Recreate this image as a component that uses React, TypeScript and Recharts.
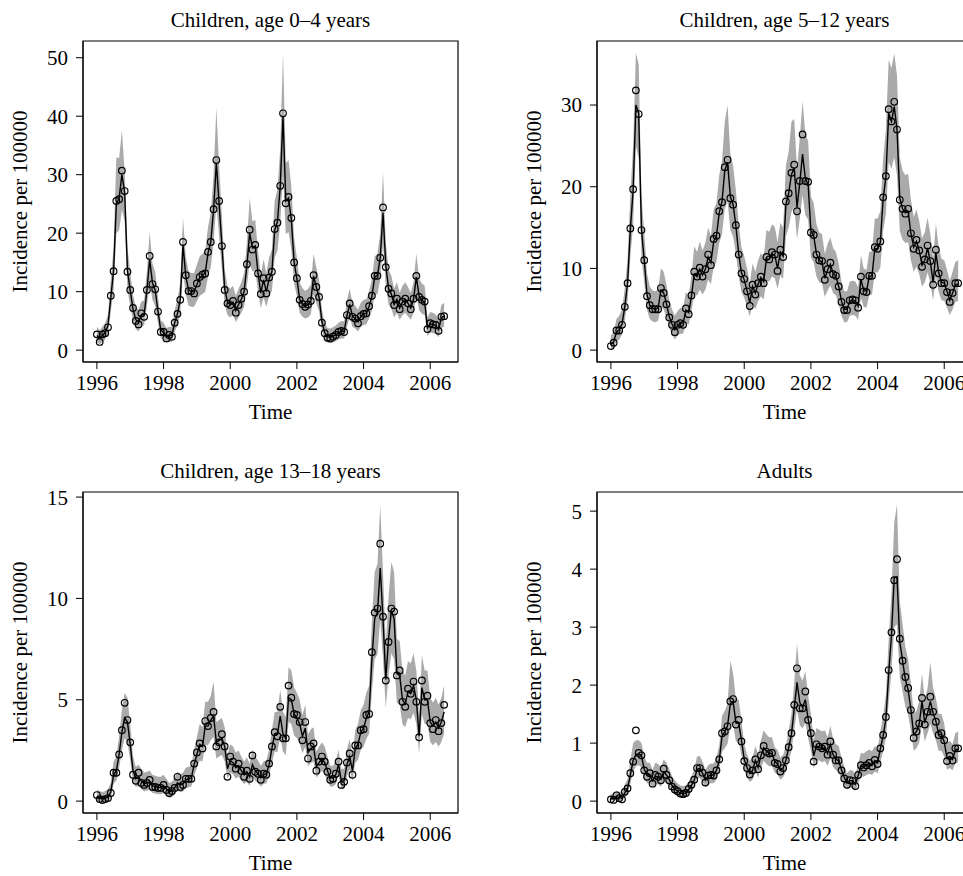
import { ComposedChart, Area, Line, XAxis, YAxis, ReferenceArea } from "recharts";

// monthly series, Jan 1996 – Jun 2006
const xTicks = [1996, 1998, 2000, 2002, 2004, 2006];
const xDomain: [number, number] = [1995.583, 2006.833];

const obs04 = [
  2.7, 1.4, 2.7, 2.9, 3.9, 9.3, 13.5, 25.5, 25.8, 30.7, 27.2, 13.4,
  10.3, 7.2, 5.0, 4.4, 6.3, 5.7, 10.3, 16.1, 11.3, 10.4, 6.6, 3.1,
  3.1, 2.0, 2.6, 2.3, 4.7, 6.2, 8.6, 18.5, 12.8, 10.1, 10.1, 9.7,
  11.4, 12.5, 12.9, 13.1, 16.8, 18.5, 24.1, 32.5, 25.5, 17.8, 10.3, 8.0,
  7.7, 8.4, 6.4, 7.7, 8.8, 10.0, 14.7, 20.6, 17.2, 18.0, 13.1, 9.6,
  12.3, 9.7, 12.4, 13.4, 20.7, 21.8, 28.1, 40.5, 25.1, 26.2, 22.6, 15.0,
  12.3, 8.6, 7.9, 7.4, 7.8, 8.4, 12.8, 10.8, 9.1, 4.7, 2.9, 2.1,
  2.0, 2.3, 2.6, 3.1, 3.3, 3.1, 6.0, 8.0, 5.7, 5.4, 4.6, 5.8,
  6.2, 6.3, 7.5, 9.3, 12.7, 12.7, 15.8, 24.4, 14.2, 10.5, 9.7, 7.7,
  8.8, 7.0, 8.3, 8.8, 8.0, 7.0, 8.8, 12.7, 9.1, 8.6, 8.3, 3.6,
  4.6, 4.4, 4.3, 3.3, 5.7, 5.8,
];
const fit04 = [
  2.5, 2.0, 2.5, 3.0, 4.2, 9.0, 13.5, 25.0, 26.0, 30.0, 27.0, 13.6,
  10.2, 7.0, 5.2, 4.8, 6.0, 6.0, 10.2, 15.5, 11.5, 10.2, 6.6, 3.4,
  3.0, 2.3, 2.5, 2.5, 4.7, 6.2, 8.6, 18.0, 12.6, 10.3, 10.0, 10.0,
  11.2, 12.4, 12.8, 13.2, 16.6, 18.5, 24.0, 32.0, 25.0, 18.0, 10.5, 8.2,
  7.8, 8.2, 6.8, 7.8, 8.7, 10.0, 14.5, 20.0, 17.5, 17.8, 13.2, 9.8,
  12.0, 10.0, 12.2, 13.4, 20.5, 22.0, 28.0, 40.0, 25.5, 26.0, 22.3, 15.0,
  12.2, 8.7, 7.9, 7.5, 7.8, 8.4, 12.6, 10.8, 9.0, 4.9, 3.0, 2.3,
  2.2, 2.4, 2.6, 3.0, 3.3, 3.2, 5.8, 7.8, 5.8, 5.4, 4.8, 5.8,
  6.2, 6.3, 7.5, 9.2, 12.5, 12.8, 15.8, 23.5, 14.5, 10.5, 9.6, 7.8,
  8.7, 7.2, 8.2, 8.7, 8.0, 7.2, 8.7, 12.5, 9.2, 8.5, 8.2, 3.8,
  4.5, 4.4, 4.2, 3.5, 5.5, 5.8,
];
const hi04 = [
  4.0, 3.4, 4.0, 4.7, 6.1, 12.0, 17.5, 33.0, 32.8, 37.6, 30.5, 17.5,
  13.4, 9.5, 7.3, 6.9, 8.3, 8.5, 13.5, 20.2, 14.8, 13.4, 9.0, 5.1,
  4.7, 3.8, 4.0, 4.0, 6.8, 8.6, 11.5, 22.6, 16.0, 13.5, 13.2, 13.2,
  14.6, 16.0, 16.5, 17.0, 21.0, 23.5, 30.0, 41.5, 31.5, 23.0, 13.8, 11.0,
  10.5, 11.0, 9.3, 10.5, 11.6, 13.2, 18.5, 26.0, 22.0, 22.3, 17.0, 12.9,
  15.5, 13.2, 15.8, 17.2, 25.5, 27.5, 34.5, 50.8, 32.0, 32.5, 28.0, 19.2,
  15.8, 11.6, 10.6, 10.1, 10.5, 11.2, 16.5, 14.1, 12.0, 7.0, 4.7, 3.8,
  3.7, 3.9, 4.2, 4.7, 5.0, 4.9, 8.5, 10.5, 8.1, 7.6, 6.9, 8.1,
  8.6, 8.7, 10.1, 12.2, 16.0, 16.5, 20.0, 30.5, 18.5, 13.8, 12.7, 10.5,
  11.6, 9.8, 11.0, 11.6, 10.8, 9.8, 11.6, 16.5, 12.2, 11.4, 11.0, 5.6,
  6.5, 6.4, 6.1, 5.2, 7.7, 8.1,
];
const lo04 = [
  1.4, 1.0, 1.4, 1.8, 2.8, 6.6, 10.2, 20.0, 20.5, 24.0, 22.0, 10.3,
  7.6, 5.0, 3.6, 3.2, 4.2, 4.2, 7.5, 11.5, 8.6, 7.5, 4.6, 2.1,
  1.8, 1.3, 1.4, 1.4, 3.1, 4.3, 6.2, 13.5, 9.5, 7.6, 7.4, 7.4,
  8.4, 9.3, 9.6, 10.0, 12.6, 14.2, 18.5, 25.0, 19.5, 13.8, 7.8, 6.0,
  5.6, 6.0, 4.8, 5.6, 6.4, 7.4, 11.0, 15.0, 13.4, 13.6, 10.0, 7.2,
  9.0, 7.4, 9.2, 10.1, 15.8, 17.0, 21.8, 30.0, 19.8, 20.2, 17.2, 11.4,
  9.2, 6.4, 5.7, 5.4, 5.6, 6.1, 9.5, 8.0, 6.6, 3.3, 1.8, 1.3,
  1.2, 1.3, 1.5, 1.8, 2.0, 2.0, 4.0, 5.6, 4.0, 3.7, 3.2, 4.0,
  4.3, 4.4, 5.4, 6.8, 9.4, 9.6, 12.0, 18.0, 11.0, 7.8, 7.1, 5.6,
  6.4, 5.2, 6.0, 6.4, 5.8, 5.2, 6.4, 9.4, 6.8, 6.2, 6.0, 2.4,
  3.0, 2.9, 2.8, 2.2, 3.8, 4.0,
];

const obs512 = [
  0.5, 0.9, 2.4, 2.4, 3.1, 5.3, 8.2, 14.9, 19.7, 31.8, 28.9, 14.7,
  11.0, 6.6, 5.5, 5.0, 5.0, 5.0, 7.6, 7.0, 5.6, 4.0, 3.1, 2.2,
  3.1, 3.3, 3.1, 5.1, 4.4, 6.7, 9.6, 9.0, 10.1, 9.0, 9.9, 11.7,
  10.4, 13.6, 14.0, 17.0, 18.1, 22.4, 23.3, 18.6, 17.8, 15.3, 11.7, 9.4,
  8.7, 7.2, 5.4, 8.0, 6.8, 8.2, 9.0, 8.2, 11.4, 11.1, 12.0, 11.7,
  9.7, 12.3, 11.4, 18.2, 19.2, 21.7, 22.7, 17.0, 20.7, 26.4, 20.7, 20.6,
  14.4, 14.1, 11.7, 11.0, 10.9, 8.6, 9.9, 10.7, 9.3, 9.1, 7.8, 5.9,
  4.9, 4.9, 6.1, 6.2, 6.1, 5.2, 9.0, 7.2, 7.1, 9.1, 9.1, 12.6,
  12.4, 13.3, 18.7, 21.3, 29.5, 28.0, 30.4, 27.0, 18.4, 17.3, 16.7, 17.3,
  14.3, 12.4, 13.5, 12.2, 10.2, 11.1, 12.8, 10.9, 8.0, 12.3, 9.4, 8.2,
  8.2, 7.1, 5.9, 7.0, 8.2, 8.2,
];
const fit512 = [
  0.7, 1.0, 2.2, 2.5, 3.2, 5.3, 8.2, 14.8, 19.5, 30.0, 29.0, 14.8,
  11.0, 6.8, 5.5, 5.1, 5.0, 5.2, 7.3, 7.0, 5.7, 4.1, 3.2, 2.5,
  3.0, 3.3, 3.3, 4.9, 4.6, 6.6, 9.3, 9.0, 9.9, 9.2, 9.9, 11.4,
  10.7, 13.3, 14.0, 16.8, 18.2, 22.0, 23.0, 18.8, 17.8, 15.2, 11.8, 9.5,
  8.6, 7.3, 5.8, 7.8, 7.0, 8.1, 8.9, 8.4, 11.2, 11.1, 11.8, 11.6,
  10.0, 12.0, 11.5, 17.8, 19.2, 21.5, 22.3, 17.5, 20.5, 24.0, 21.0, 20.3,
  14.6, 14.0, 11.8, 11.0, 10.8, 8.8, 9.8, 10.5, 9.4, 9.0, 7.8, 6.0,
  5.0, 5.0, 6.0, 6.1, 6.0, 5.4, 8.7, 7.3, 7.2, 9.0, 9.1, 12.4,
  12.4, 13.2, 18.5, 21.2, 29.0, 28.0, 29.8, 27.0, 18.6, 17.3, 16.8, 17.0,
  14.3, 12.6, 13.3, 12.2, 10.4, 11.0, 12.5, 10.8, 8.3, 11.9, 9.5, 8.3,
  8.2, 7.2, 6.1, 7.0, 8.0, 8.1,
];
const hi512 = [
  1.8, 2.2, 3.8, 4.2, 5.0, 7.6, 11.2, 19.0, 25.0, 36.4, 35.0, 19.0,
  14.4, 9.4, 7.8, 7.3, 7.2, 7.4, 10.0, 9.6, 8.0, 6.1, 5.0, 4.2,
  4.8, 5.2, 5.2, 7.1, 6.7, 9.1, 12.7, 12.0, 13.3, 12.2, 13.1, 15.0,
  14.0, 17.2, 18.0, 21.4, 23.2, 28.0, 30.0, 24.0, 22.6, 19.5, 15.4, 12.6,
  11.5, 10.0, 8.2, 10.6, 9.6, 11.0, 11.9, 11.3, 14.7, 14.5, 15.4, 15.1,
  13.2, 15.6, 15.0, 22.6, 24.3, 28.0, 28.3, 22.2, 26.0, 30.5, 26.5, 25.6,
  18.8, 18.0, 15.4, 14.4, 14.2, 11.8, 13.0, 13.8, 12.5, 12.0, 10.6, 8.4,
  7.2, 7.2, 8.4, 8.5, 8.4, 7.7, 11.6, 10.0, 9.8, 12.0, 12.1, 16.1,
  16.1, 17.0, 23.4, 27.0, 35.5, 34.5, 36.3, 33.6, 23.6, 22.0, 21.4, 21.6,
  18.4, 16.3, 17.2, 15.8, 13.7, 14.4, 16.2, 14.2, 11.2, 15.5, 12.6, 11.2,
  11.0, 9.8, 8.5, 9.6, 10.8, 11.0,
];
const lo512 = [
  0.2, 0.3, 1.1, 1.3, 1.9, 3.6, 6.0, 11.4, 15.3, 25.0, 23.5, 11.4,
  8.3, 4.9, 3.8, 3.5, 3.4, 3.6, 5.3, 5.0, 4.0, 2.7, 1.9, 1.3,
  1.8, 2.0, 2.0, 3.3, 3.1, 4.7, 6.9, 6.7, 7.4, 6.8, 7.4, 8.6,
  8.1, 10.2, 10.8, 13.1, 14.2, 17.3, 18.2, 14.7, 13.9, 11.8, 9.0, 7.1,
  6.4, 5.3, 4.1, 5.7, 5.0, 6.0, 6.6, 6.2, 8.5, 8.4, 9.0, 8.8,
  7.5, 9.1, 8.7, 13.9, 15.0, 16.9, 17.6, 13.6, 16.1, 19.0, 16.5, 16.0,
  11.3, 10.8, 9.0, 8.3, 8.2, 6.5, 7.3, 7.9, 7.0, 6.7, 5.7, 4.2,
  3.4, 3.4, 4.2, 4.3, 4.2, 3.7, 6.4, 5.3, 5.2, 6.7, 6.8, 9.5,
  9.5, 10.1, 14.5, 16.7, 23.0, 22.2, 23.6, 21.4, 14.6, 13.5, 13.1, 13.2,
  11.0, 9.6, 10.2, 9.3, 7.8, 8.3, 9.5, 8.2, 6.1, 9.0, 7.1, 6.1,
  6.0, 5.2, 4.3, 5.0, 5.9, 6.0,
];

const obs1318 = [
  0.3, 0.1, 0.05, 0.1, 0.15, 0.4, 1.4, 1.4, 2.3, 3.5, 4.85, 4.0,
  2.9, 1.3, 1.0, 1.4, 0.9, 0.8, 0.9, 1.05, 0.7, 0.7, 0.65, 0.65,
  0.8, 0.55, 0.4, 0.5, 0.65, 1.2, 0.7, 0.8, 1.1, 1.1, 1.1, 1.85,
  2.4, 2.85, 2.6, 3.95, 3.7, 4.1, 4.4, 2.7, 2.9, 3.3, 2.7, 1.2,
  2.2, 1.95, 1.6, 1.85, 1.5, 1.2, 1.5, 1.1, 2.25, 1.45, 1.35, 1.05,
  1.35, 1.3, 1.85, 2.7, 3.4, 3.2, 4.65, 3.1, 3.1, 5.7, 5.1, 4.3,
  4.25, 3.9, 3.0, 3.9, 2.1, 2.7, 2.85, 1.5, 1.95, 2.2, 1.95, 1.45,
  1.05, 1.1, 1.35, 1.95, 0.8, 0.95, 1.9, 2.35, 1.3, 2.75, 2.75, 3.5,
  3.55, 4.25, 4.3, 7.35, 9.3, 9.5, 12.7, 9.1, 5.95, 7.85, 9.5, 9.35,
  6.2, 6.45, 4.9, 4.65, 5.55, 5.3, 5.9, 4.9, 3.15, 5.95, 4.9, 5.2,
  3.85, 3.55, 4.0, 3.45, 3.85, 4.75,
];
const fit1318 = [
  0.2, 0.15, 0.12, 0.15, 0.2, 0.45, 1.3, 1.5, 2.3, 3.4, 4.1, 3.9,
  2.8, 1.5, 1.1, 1.2, 1.0, 0.85, 0.9, 0.95, 0.75, 0.72, 0.68, 0.68,
  0.75, 0.6, 0.45, 0.5, 0.65, 0.9, 0.8, 0.85, 1.05, 1.1, 1.15, 1.8,
  2.3, 2.8, 2.7, 3.7, 3.7, 4.0, 4.2, 2.9, 3.0, 3.1, 2.7, 1.6,
  2.0, 1.9, 1.65, 1.75, 1.5, 1.3, 1.45, 1.2, 1.8, 1.5, 1.35, 1.15,
  1.3, 1.35, 1.8, 2.6, 3.3, 3.3, 4.2, 3.3, 3.1, 5.1, 5.0, 4.3,
  4.1, 3.8, 3.2, 3.6, 2.4, 2.6, 2.7, 1.7, 1.9, 2.1, 1.9, 1.5,
  1.15, 1.15, 1.3, 1.8, 1.0, 1.0, 1.8, 2.2, 1.5, 2.6, 2.8, 3.4,
  3.6, 4.1, 4.4, 7.0, 9.0, 9.3, 11.5, 9.0, 6.0, 8.0, 9.4, 9.0,
  6.3, 6.2, 5.0, 4.8, 5.4, 5.3, 5.7, 5.0, 3.2, 5.6, 5.0, 5.0,
  3.9, 3.7, 3.9, 3.6, 3.9, 4.4,
];
const hi1318 = [
  0.55, 0.5, 0.45, 0.5, 0.6, 0.9, 1.95, 2.2, 3.2, 4.5, 5.35, 5.1,
  3.8, 2.2, 1.7, 1.8, 1.6, 1.4, 1.45, 1.5, 1.3, 1.25, 1.2, 1.2,
  1.3, 1.1, 0.9, 0.96, 1.15, 1.45, 1.33, 1.4, 1.65, 1.7, 1.75, 2.55,
  3.15, 3.8, 3.65, 4.9, 4.9, 5.2, 5.9, 3.9, 4.0, 4.1, 3.65, 2.3,
  2.8, 2.7, 2.4, 2.5, 2.2, 1.95, 2.15, 1.85, 2.55, 2.2, 2.0, 1.75,
  1.95, 2.0, 2.55, 3.5, 4.4, 4.4, 5.5, 4.4, 4.15, 6.6, 6.45, 5.6,
  5.35, 5.0, 4.25, 4.75, 3.3, 3.55, 3.65, 2.45, 2.7, 2.9, 2.7, 2.2,
  1.75, 1.75, 1.95, 2.55, 1.6, 1.6, 2.55, 3.05, 2.2, 3.5, 3.8, 4.5,
  4.75, 5.35, 5.7, 8.9, 11.3, 11.7, 14.6, 11.3, 7.7, 10.1, 11.8, 11.3,
  8.0, 7.9, 6.45, 6.2, 6.9, 6.8, 7.3, 6.45, 4.25, 7.2, 6.45, 6.45,
  5.1, 4.85, 5.1, 4.75, 5.1, 5.7,
];
const lo1318 = [
  0.02, 0.02, 0.02, 0.02, 0.02, 0.16, 0.84, 1.0, 1.64, 2.5, 3.1, 2.9,
  2.0, 1.0, 0.7, 0.76, 0.6, 0.48, 0.52, 0.56, 0.4, 0.38, 0.34, 0.34,
  0.4, 0.28, 0.16, 0.2, 0.32, 0.52, 0.44, 0.48, 0.64, 0.68, 0.72, 1.24,
  1.64, 2.0, 1.96, 2.76, 2.76, 3.0, 3.16, 2.1, 2.2, 2.28, 1.96, 1.1,
  1.4, 1.32, 1.12, 1.2, 1.0, 0.84, 0.96, 0.76, 1.24, 1.0, 0.88, 0.72,
  0.84, 0.88, 1.24, 1.88, 2.44, 2.44, 3.16, 2.44, 2.28, 3.9, 3.8, 3.24,
  3.1, 2.84, 2.36, 2.68, 1.72, 1.88, 1.96, 1.16, 1.32, 1.48, 1.32, 1.0,
  0.72, 0.72, 0.84, 1.24, 0.6, 0.6, 1.24, 1.56, 1.0, 1.88, 2.04, 2.52,
  2.68, 3.08, 3.32, 5.4, 7.0, 7.24, 9.0, 7.0, 4.6, 6.2, 7.3, 7.0,
  4.84, 4.76, 3.8, 3.64, 4.1, 4.04, 4.36, 3.8, 2.36, 4.28, 3.8, 3.8,
  2.92, 2.76, 2.92, 2.68, 2.92, 3.32,
];

const obsAdult = [
  0.03, 0.02, 0.1, 0.05, 0.03, 0.16, 0.22, 0.48, 0.68, 1.22, 0.83, 0.79,
  0.53, 0.42, 0.48, 0.3, 0.45, 0.42, 0.36, 0.56, 0.45, 0.36, 0.25, 0.2,
  0.17, 0.13, 0.12, 0.14, 0.21, 0.28, 0.37, 0.57, 0.57, 0.49, 0.32, 0.44,
  0.45, 0.44, 0.53, 0.72, 1.17, 1.2, 1.29, 1.72, 1.76, 1.32, 1.4, 1.03,
  0.69, 0.57, 0.46, 0.53, 0.72, 0.55, 0.79, 0.95, 0.85, 0.82, 0.83, 0.66,
  0.64, 0.51, 0.57, 0.7, 0.93, 1.17, 1.66, 2.29, 1.6, 1.6, 1.89, 1.4,
  1.17, 0.68, 0.98, 0.94, 0.91, 0.94, 0.8, 1.03, 0.8, 0.7, 0.7, 0.53,
  0.39, 0.28, 0.36, 0.35, 0.26, 0.45, 0.62, 0.58, 0.62, 0.66, 0.6, 0.71,
  0.64, 0.91, 1.14, 1.45, 2.26, 2.91, 3.81, 4.17, 2.8, 2.42, 2.14, 1.95,
  1.57, 1.09, 1.2, 1.34, 1.78, 1.32, 1.54, 1.8, 1.54, 1.37, 1.14, 1.17,
  1.05, 0.69, 0.78, 0.7, 0.91, 0.91,
];
const fitAdult = [
  0.04, 0.04, 0.08, 0.06, 0.05, 0.14, 0.22, 0.45, 0.7, 0.8, 0.82, 0.78,
  0.55, 0.45, 0.45, 0.35, 0.43, 0.42, 0.38, 0.5, 0.45, 0.37, 0.27, 0.21,
  0.17, 0.14, 0.13, 0.14, 0.2, 0.27, 0.36, 0.55, 0.56, 0.48, 0.36, 0.43,
  0.45, 0.45, 0.53, 0.7, 1.12, 1.2, 1.3, 1.68, 1.72, 1.35, 1.35, 1.05,
  0.72, 0.58, 0.48, 0.53, 0.7, 0.58, 0.78, 0.92, 0.86, 0.82, 0.82, 0.68,
  0.64, 0.53, 0.57, 0.7, 0.92, 1.15, 1.6, 2.05, 1.7, 1.62, 1.75, 1.42,
  1.15, 0.78, 0.95, 0.93, 0.9, 0.92, 0.82, 0.98, 0.8, 0.72, 0.7, 0.54,
  0.41, 0.31, 0.35, 0.35, 0.29, 0.44, 0.6, 0.59, 0.62, 0.65, 0.62, 0.7,
  0.66, 0.9, 1.12, 1.42, 2.2, 2.85, 3.85, 3.87, 2.75, 2.42, 2.1, 1.92,
  1.58, 1.15, 1.2, 1.33, 1.72, 1.35, 1.52, 1.72, 1.52, 1.38, 1.15, 1.15,
  1.02, 0.74, 0.77, 0.72, 0.88, 0.9,
];
const hiAdult = [
  0.12, 0.12, 0.18, 0.16, 0.15, 0.28, 0.38, 0.7, 1.0, 1.05, 1.05, 1.0,
  0.78, 0.66, 0.66, 0.54, 0.66, 0.64, 0.58, 0.72, 0.66, 0.56, 0.43, 0.36,
  0.31, 0.27, 0.26, 0.27, 0.34, 0.43, 0.54, 0.77, 0.78, 0.68, 0.54, 0.62,
  0.65, 0.65, 0.75, 0.96, 1.47, 1.56, 1.68, 2.42, 2.2, 1.75, 1.75, 1.38,
  0.98, 0.81, 0.69, 0.75, 0.95, 0.81, 1.05, 1.22, 1.15, 1.1, 1.1, 0.93,
  0.88, 0.75, 0.8, 0.95, 1.22, 1.5, 2.05, 2.72, 2.17, 2.08, 2.24, 1.83,
  1.5, 1.05, 1.26, 1.23, 1.2, 1.22, 1.1, 1.3, 1.08, 0.98, 0.95, 0.76,
  0.6, 0.48, 0.53, 0.53, 0.45, 0.64, 0.83, 0.82, 0.86, 0.89, 0.86, 0.95,
  0.9, 1.2, 1.47, 1.83, 2.8, 3.58, 4.8, 5.12, 3.45, 3.05, 2.66, 2.44,
  2.03, 1.5, 1.56, 1.72, 2.2, 1.75, 1.95, 2.4, 1.95, 1.78, 1.5, 1.5,
  1.34, 1.0, 1.04, 0.98, 1.17, 1.2,
];
const loAdult = [
  0.01, 0.01, 0.02, 0.01, 0.01, 0.06, 0.12, 0.3, 0.5, 0.6, 0.62, 0.58,
  0.39, 0.31, 0.31, 0.23, 0.29, 0.29, 0.25, 0.35, 0.31, 0.25, 0.17, 0.12,
  0.09, 0.07, 0.06, 0.07, 0.11, 0.17, 0.24, 0.39, 0.4, 0.33, 0.24, 0.29,
  0.31, 0.31, 0.37, 0.51, 0.85, 0.91, 0.99, 1.3, 1.33, 1.03, 1.03, 0.79,
  0.53, 0.41, 0.33, 0.37, 0.51, 0.41, 0.57, 0.69, 0.64, 0.6, 0.6, 0.49,
  0.46, 0.37, 0.41, 0.51, 0.69, 0.87, 1.23, 1.58, 1.31, 1.25, 1.35, 1.09,
  0.87, 0.57, 0.71, 0.7, 0.67, 0.69, 0.61, 0.73, 0.59, 0.53, 0.51, 0.38,
  0.28, 0.2, 0.23, 0.23, 0.18, 0.3, 0.43, 0.42, 0.45, 0.47, 0.45, 0.51,
  0.48, 0.67, 0.85, 1.09, 1.7, 2.23, 3.0, 3.05, 2.15, 1.89, 1.63, 1.49,
  1.21, 0.87, 0.91, 1.01, 1.33, 1.03, 1.17, 1.33, 1.17, 1.05, 0.87, 0.87,
  0.77, 0.54, 0.57, 0.53, 0.65, 0.67,
];

const font = "'Liberation Serif', 'Times New Roman', serif";
const tickStyle = { fontSize: 21, fill: "#000", fontFamily: font };
const BOX_W = 375;
const BOX_H = 321;

const panels = [
  { title: "Children, age 0–4 years", obs: obs04, fit: fit04, lo: lo04, hi: hi04,
    yTicks: [0, 10, 20, 30, 40, 50], yDomain: [-2.03, 52.86], left: 83, top: 41 },
  { title: "Children, age 5–12 years", obs: obs512, fit: fit512, lo: lo512, hi: hi512,
    yTicks: [0, 10, 20, 30], yDomain: [-1.455, 37.84], left: 597, top: 41 },
  { title: "Children, age 13–18 years", obs: obs1318, fit: fit1318, lo: lo1318, hi: hi1318,
    yTicks: [0, 5, 10, 15], yDomain: [-0.586, 15.25], left: 83, top: 492 },
  { title: "Adults", obs: obsAdult, fit: fitAdult, lo: loAdult, hi: hiAdult,
    yTicks: [0, 1, 2, 3, 4, 5], yDomain: [-0.205, 5.33], left: 597, top: 492 },
];

type P = (typeof panels)[number];

function Panel({ p }: { p: P }) {
  const rows = p.obs.map((v, i) => ({ t: 1996 + i / 12, obs: v, fit: p.fit[i], band: [p.lo[i], p.hi[i]] }));
  return (
    <div style={{ position: "absolute", left: p.left - 70, top: p.top - 10 }}>
      <ComposedChart width={BOX_W + 80} height={BOX_H + 60} data={rows}
        margin={{ top: 10, right: 10, bottom: 0, left: 0 }}>
        <XAxis type="number" dataKey="t" domain={xDomain} ticks={xTicks} allowDataOverflow interval={0}
          height={50} tickSize={7} tickMargin={6} stroke="#000" tick={tickStyle} />
        <YAxis type="number" domain={p.yDomain} ticks={p.yTicks} allowDataOverflow interval={0}
          width={70} tickSize={7} tickMargin={8} stroke="#000" tick={tickStyle} />
        <Area dataKey="band" type="linear" stroke="none" fill="#aaaaaa" fillOpacity={1}
          isAnimationActive={false} activeDot={false} />
        <Line dataKey="fit" type="linear" stroke="#000" strokeWidth={1.4} dot={false}
          activeDot={false} isAnimationActive={false} />
        <Line dataKey="obs" stroke="none" activeDot={false} isAnimationActive={false}
          dot={{ r: 3.3, stroke: "#000", strokeWidth: 1.2, fill: "none" }} />
        <ReferenceArea x1={xDomain[0]} x2={xDomain[1]} y1={p.yDomain[0]} y2={p.yDomain[1]}
          fill="none" stroke="#000" strokeWidth={1.2} ifOverflow="visible" />
      </ComposedChart>
    </div>
  );
}

export default function App() {
  return (
    <div style={{ position: "absolute", left: 0, top: 0, width: 963, height: 876, overflow: "hidden", background: "#fff" }}>
      {panels.map((p) => <Panel key={p.title} p={p} />)}
      <svg width={963} height={876} style={{ position: "absolute", left: 0, top: 0, pointerEvents: "none" }}
        fontFamily={font} fontSize={21}>
        {panels.map((p) => (
          <g key={p.title}>
            <text x={p.left + BOX_W / 2} y={p.top - 14} textAnchor="middle">{p.title}</text>
            <text x={p.left + BOX_W / 2} y={p.top + BOX_H + 57} textAnchor="middle">Time</text>
            <text transform={`translate(${p.left - 56}, ${p.top + BOX_H / 2}) rotate(-90)`} textAnchor="middle">
              Incidence per 100000
            </text>
          </g>
        ))}
      </svg>
    </div>
  );
}
